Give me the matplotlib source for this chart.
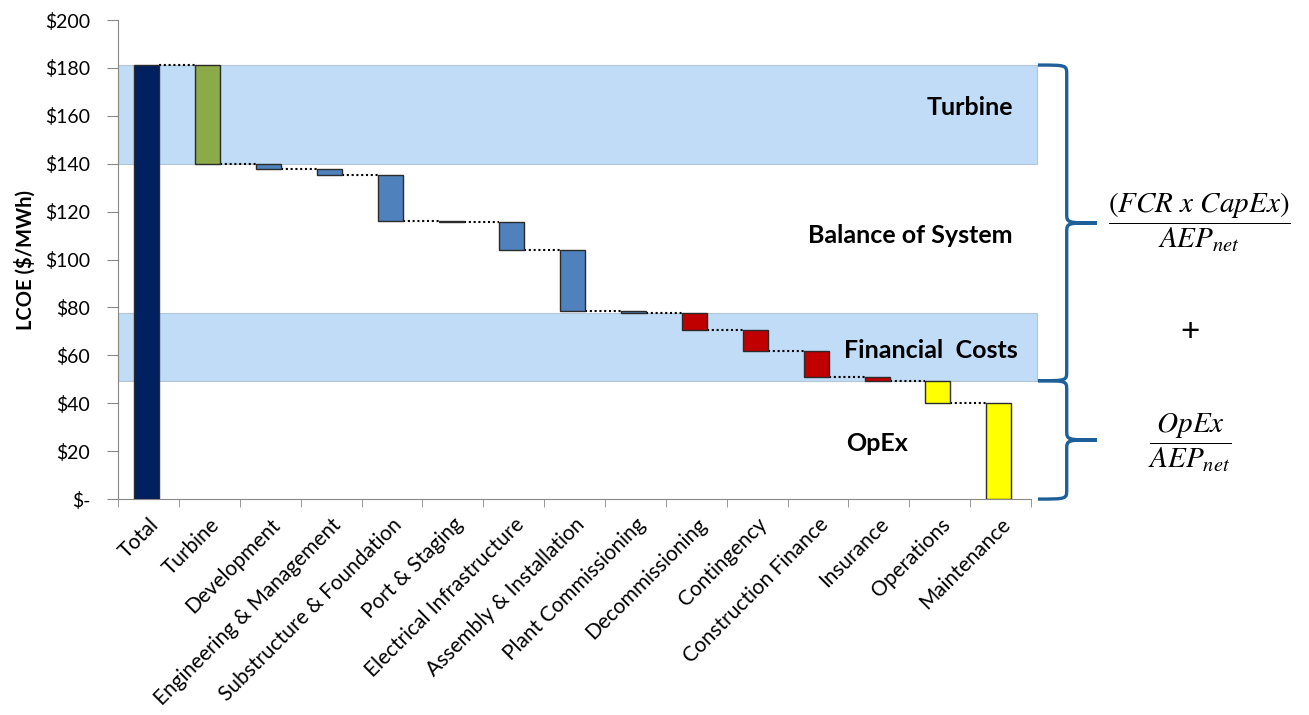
import numpy as np
import matplotlib
matplotlib.use("Agg")
import matplotlib.pyplot as plt
from matplotlib.path import Path
from matplotlib.patches import PathPatch, Rectangle

plt.rcParams['font.family'] = ['Lato', 'DejaVu Sans']
plt.rcParams['mathtext.fontset'] = 'stix'

# waterfall data ($/MWh)
categories = ["Total", "Turbine", "Development", "Engineering & Management",
              "Substructure & Foundation", "Port & Staging", "Electrical Infrastructure",
              "Assembly & Installation", "Plant Commissioning", "Decommissioning",
              "Contingency", "Construction Finance", "Insurance", "Operations", "Maintenance"]
total_lcoe = 181.2
drops = [41.2, 2.0, 2.5, 19.5, 0.5, 11.5, 25.5, 1.0, 7.0, 8.5, 11.2, 1.4, 9.1, 40.3]
groups = ["total", "turbine", "bos", "bos", "bos", "bos", "bos", "bos", "bos",
          "fin", "fin", "fin", "fin", "opex", "opex"]
group_colors = {"total": "#002060", "turbine": "#8aab47", "bos": "#4f81bd",
                "fin": "#c00000", "opex": "#ffff00"}
band_labels = ["Turbine", "Balance of System", "Financial  Costs", "OpEx"]

# levels after each step
levels = [total_lcoe]
for d in drops:
    levels.append(levels[-1] - d)
bottoms = [0.0] + levels[1:]
heights = [total_lcoe] + drops
x = np.arange(len(categories))
w = 0.41

fig = plt.figure(figsize=(13.09, 7.15), dpi=100)
ax = fig.add_axes([0.0902, 0.302, 0.6975, 0.670])

# shaded bands
band_col = "#c0dcf6"
turb_hi, turb_lo = levels[0], levels[1]
fin_hi, fin_lo = levels[8], levels[12]
for lo, hi in [(turb_lo, turb_hi), (fin_lo, fin_hi)]:
    ax.add_patch(Rectangle((0, lo), 1.007, hi - lo, transform=ax.get_yaxis_transform(),
                           facecolor=band_col, edgecolor="#b4c6d6", lw=0.8,
                           clip_on=False, zorder=0))

# bars
ax.bar(x - 0.03, heights, w, bottom=bottoms, color=[group_colors[g] for g in groups],
       edgecolor="#2b2b2b", linewidth=1.0, zorder=3)

# dotted connectors
for i in range(len(categories) - 1):
    ax.plot([x[i] - 0.03 + w / 2, x[i + 1] - 0.03 - w / 2], [levels[i], levels[i]],
            color="black", ls=(0, (1, 1.3)), lw=1.5, zorder=2)

ax.set_xlim(-0.5, len(categories) - 0.5)
ax.set_ylim(0, 200)
yt = np.arange(0, 201, 20)
ax.set_yticks(yt)
ax.set_yticklabels(["$-" if v == 0 else "$%d" % v for v in yt], fontsize=14)
ax.set_xticks(x)
ax.set_xticklabels(categories, rotation=45, ha="right", rotation_mode="anchor", fontsize=15)
ax.set_xticks(np.arange(-0.5, len(categories)), minor=True)
ax.tick_params(axis="x", which="major", length=0, pad=11)
ax.tick_params(axis="x", which="minor", length=6, color="#888888")
ax.tick_params(axis="y", length=8, pad=12, color="#888888")
for s in ["top", "right"]:
    ax.spines[s].set_visible(False)
for s in ["left", "bottom"]:
    ax.spines[s].set_color("#888888")
ax.set_ylabel("LCOE ($/MWh)", fontsize=14.5, fontweight="bold", labelpad=7)

# band labels
ax.text(13.5, 163.5, band_labels[0], ha="center", va="center", fontsize=18, fontweight="bold")
ax.text(12.52, 110, band_labels[1], ha="center", va="center", fontsize=18, fontweight="bold")
ax.text(12.85, 62, band_labels[2], ha="center", va="center", fontsize=18, fontweight="bold")
ax.text(11.97, 23, band_labels[3], ha="center", va="center", fontsize=18, fontweight="bold")

# curly braces on the right
def brace(top, bot, x0=1.0075, xv=1.039, xt=1.072):
    mid = (top + bot) / 2
    r = 4.0
    verts = [(x0, top), (xv, top), (xv, top), (xv, top - r),
             (xv, mid + r),
             (xv, mid), (xv, mid), (xt, mid),
             (xv, mid), (xv, mid), (xv, mid - r),
             (xv, bot + r),
             (xv, bot), (xv, bot), (x0, bot)]
    codes = [Path.MOVETO, Path.CURVE4, Path.CURVE4, Path.CURVE4,
             Path.LINETO,
             Path.CURVE4, Path.CURVE4, Path.CURVE4,
             Path.CURVE4, Path.CURVE4, Path.CURVE4,
             Path.LINETO,
             Path.CURVE4, Path.CURVE4, Path.CURVE4]
    ax.add_patch(PathPatch(Path(verts, codes), transform=ax.get_yaxis_transform(),
                           facecolor="none", edgecolor="#1f5f99", lw=2.4, clip_on=False))

brace(levels[0], levels[12])
brace(levels[12], 0)

fig.text(0.916, 0.689, r"$\dfrac{(FCR\ x\ CapEx)}{AEP_{net}}$", ha="center", va="center", fontsize=21)
fig.text(0.909, 0.535, "+", ha="center", va="center", fontsize=24)
fig.text(0.909, 0.381, r"$\dfrac{OpEx}{AEP_{net}}$", ha="center", va="center", fontsize=21)

fig.savefig("out.png", dpi=100)
